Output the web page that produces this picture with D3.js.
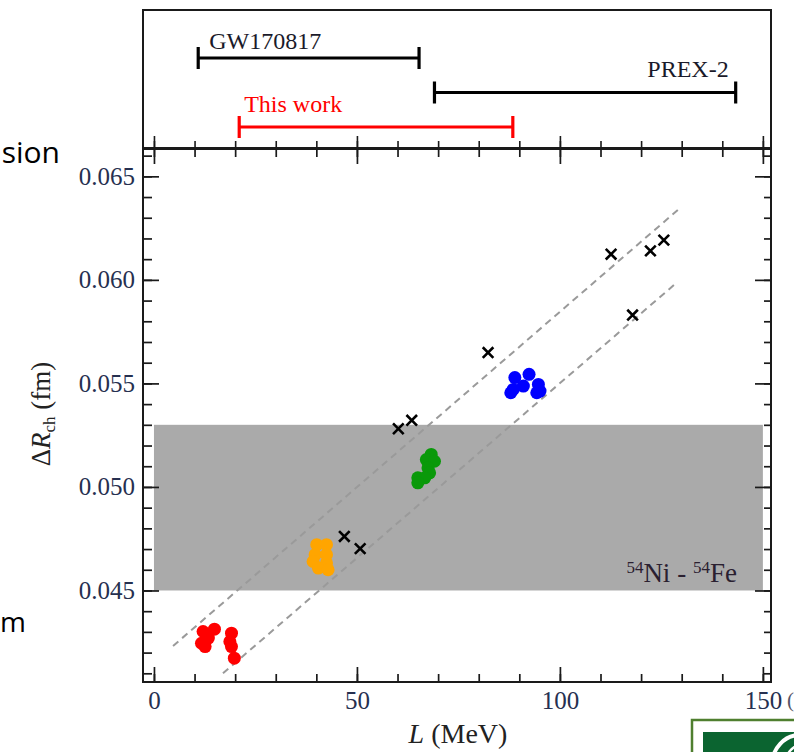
<!DOCTYPE html>
<html><head><meta charset="utf-8">
<script src="https://cdn.jsdelivr.net/npm/d3@7"></script>
<style>body{margin:0;background:#fff}svg{display:block}</style>
</head><body>
<script>
// ---------- data ----------
const constraintNames = ["GW170817", "PREX-2", "This work"];
const constraintLow = [10.9, 69.1, 21.0];
const constraintHigh = [65.3, 143.3, 88.4];

const crossL = [46.9, 50.8, 60.2, 63.5, 82.3, 112.6, 122.3, 125.6, 117.9];
const crossR = [0.04761, 0.04702, 0.05281, 0.05322, 0.05649, 0.06124, 0.06140, 0.06192, 0.05830];

const redL = [12.1, 14.9, 11.7, 12.6, 13.4, 19.1, 18.7, 19.1, 19.8];
const redR = [0.04302, 0.04313, 0.04245, 0.04229, 0.04270, 0.04294, 0.04253, 0.04229, 0.04173];
const orangeL = [40.1, 42.5, 39.7, 42.5, 39.2, 42.5, 40.5, 42.9];
const orangeR = [0.04721, 0.04721, 0.04673, 0.04673, 0.04640, 0.04633, 0.04608, 0.04600];
const greenL = [68.3, 67.1, 69.1, 67.5, 67.9, 65.0, 66.7, 65.0];
const greenR = [0.05157, 0.05132, 0.05124, 0.05092, 0.05068, 0.05044, 0.05044, 0.05020];
const blueL = [88.9, 92.4, 88.5, 87.9, 91.0, 94.7, 95.1, 94.3];
const blueR = [0.05528, 0.05544, 0.05471, 0.05455, 0.05487, 0.05495, 0.05463, 0.05455];

const upperFitL = [4.7, 129.6];
const upperFitR = [0.04232, 0.06347];
const lowerFitL = [17.0, 128.8];
const lowerFitR = [0.04100, 0.05987];

const bandL = [0, 150];
const bandR = [0.045, 0.053];

const xTicks = [0, 50, 100, 150];
const yTicks = [0.045, 0.050, 0.055, 0.060, 0.065];
const xMinor = [0, 10, 20, 30, 40, 50, 60, 70, 80, 90, 100, 110, 120, 130, 140, 150];
const yMinor = [0.041, 0.042, 0.043, 0.044, 0.045, 0.046, 0.047, 0.048, 0.049, 0.050, 0.051, 0.052, 0.053, 0.054, 0.055, 0.056, 0.057, 0.058, 0.059, 0.060, 0.061, 0.062, 0.063, 0.064, 0.065, 0.066];

// ---------- layout / style ----------
const W = 794, H = 752;
const mainL = 143, mainR = 771, mainT = 149, mainB = 682;
const topT = 10, topB = 148;
const serif = "'Liberation Serif','Times New Roman',serif";
const axisColor = "#1a1a1a";

const svg = d3.select("body").append("svg").attr("width", W).attr("height", H);

const x = d3.scaleLinear().domain([-2.7, 152]).range([mainL, mainR]);
const y = d3.scaleLinear().domain([0.04058, 0.06632]).range([mainB, mainT]);
const rowY = d3.scalePoint().domain(constraintNames).range([58, 127]);

// ---------- top panel ----------
const topPanel = svg.append("g");
topPanel.append("rect").attr("x", mainL).attr("y", topT).attr("width", mainR - mainL).attr("height", topB - topT)
  .attr("fill", "none").attr("stroke", axisColor).attr("stroke-width", 2);

const topMinor = d3.axisBottom(x).tickValues(xMinor).tickSize(-7).tickFormat("");
const topMajor = d3.axisBottom(x).tickValues(xTicks).tickSize(-12).tickFormat("");
[topMinor, topMajor].forEach(ax => {
  const g = topPanel.append("g").attr("transform", `translate(0,${topB})`).call(ax);
  g.select(".domain").remove();
  g.selectAll("line").attr("stroke", axisColor).attr("stroke-width", 1.6);
});

const barColor = {"GW170817": "#000", "PREX-2": "#000", "This work": "#ff0000"};
const capH = 11;
constraintNames.forEach((n, i) => {
  const yy = rowY(n), x0 = x(constraintLow[i]), x1 = x(constraintHigh[i]);
  const g = topPanel.append("g").attr("stroke", barColor[n]).attr("stroke-width", 3.2);
  g.append("line").attr("x1", x0).attr("x2", x1).attr("y1", yy).attr("y2", yy);
  g.append("line").attr("x1", x0).attr("x2", x0).attr("y1", yy - capH).attr("y2", yy + capH);
  g.append("line").attr("x1", x1).attr("x2", x1).attr("y1", yy - capH).attr("y2", yy + capH);
});
const lbl = (txt, xx, yy, anchor, col) => topPanel.append("text").attr("x", xx).attr("y", yy)
  .attr("text-anchor", anchor).attr("fill", col).attr("font-family", serif).attr("font-size", 24).text(txt);
lbl("GW170817", x(constraintLow[0]) + 11, rowY("GW170817") - 9, "start", "#1a1a2a");
lbl("PREX-2", x(constraintHigh[1]) - 7, rowY("PREX-2") - 16, "end", "#1a1a2a");
lbl("This work", x(constraintLow[2]) + 5, rowY("This work") - 15, "start", "#ff0000");

// ---------- main panel ----------
const main = svg.append("g");
main.append("rect").attr("x", x(bandL[0])).attr("width", x(bandL[1]) - x(bandL[0]))
  .attr("y", y(bandR[1])).attr("height", y(bandR[0]) - y(bandR[1])).attr("fill", "#aaaaaa");

const bandLabel = main.append("text").attr("x", x(bandL[1]) - 26).attr("y", y(bandR[0]) - 8)
  .attr("text-anchor", "end").attr("font-family", serif).attr("font-size", 27).attr("fill", "#2a2030");
bandLabel.append("tspan").attr("font-size", 17).attr("dy", -9).text("54");
bandLabel.append("tspan").attr("dy", 9).text("Ni - ");
bandLabel.append("tspan").attr("font-size", 17).attr("dy", -9).text("54");
bandLabel.append("tspan").attr("dy", 9).text("Fe");

const line = d3.line().x(d => x(d[0])).y(d => y(d[1]));
[[upperFitL, upperFitR], [lowerFitL, lowerFitR]].forEach(([L, R]) => {
  main.append("path").datum(L.map((v, i) => [v, R[i]])).attr("d", line)
    .attr("fill", "none").attr("stroke", "#9a9a9a").attr("stroke-width", 2).attr("stroke-dasharray", "7,5");
});

const clusters = [[redL, redR, "#ff0000"], [orangeL, orangeR, "#ffa500"], [greenL, greenR, "#0a990a"], [blueL, blueR, "#0000ff"]];
clusters.forEach(([L, R, c]) => {
  main.append("g").selectAll("circle").data(L.map((v, i) => [v, R[i]])).join("circle")
    .attr("cx", d => x(d[0])).attr("cy", d => y(d[1])).attr("r", 6.5).attr("fill", c);
});

main.append("g").selectAll("path").data(crossL.map((v, i) => [v, crossR[i]])).join("path")
  .attr("transform", d => `translate(${x(d[0])},${y(d[1])})`)
  .attr("d", d3.symbol().type(d3.symbolX).size(75))
  .attr("fill", "none").attr("stroke", "#000").attr("stroke-width", 2.6);

// frame
main.append("rect").attr("x", mainL).attr("y", mainT).attr("width", mainR - mainL).attr("height", mainB - mainT)
  .attr("fill", "none").attr("stroke", axisColor).attr("stroke-width", 2);

function ticks(axisFn, scale, vals, size, tr) {
  const g = main.append("g").attr("transform", tr).call(axisFn(scale).tickValues(vals).tickSize(size).tickFormat(""));
  g.select(".domain").remove();
  g.selectAll("line").attr("stroke", axisColor).attr("stroke-width", 1.7);
}
ticks(d3.axisBottom, x, xMinor, -8, `translate(0,${mainB})`);
ticks(d3.axisBottom, x, xTicks, -15, `translate(0,${mainB})`);
ticks(d3.axisTop, x, xMinor, -8, `translate(0,${mainT})`);
ticks(d3.axisTop, x, xTicks, -15, `translate(0,${mainT})`);
ticks(d3.axisLeft, y, yMinor, -9, `translate(${mainL},0)`);
ticks(d3.axisLeft, y, yTicks, -16, `translate(${mainL},0)`);
ticks(d3.axisRight, y, yMinor, -7, `translate(${mainR},0)`);
ticks(d3.axisRight, y, yTicks, -16, `translate(${mainR},0)`);

// tick labels
const xl = main.append("g").attr("transform", `translate(0,${mainB})`)
  .call(d3.axisBottom(x).tickValues(xTicks).tickSize(0).tickPadding(9).tickFormat(d3.format("d")));
xl.select(".domain").remove();
xl.selectAll("text").attr("font-family", serif).attr("font-size", 25).attr("fill", "#263050");
const yl = main.append("g").attr("transform", `translate(${mainL},0)`)
  .call(d3.axisLeft(y).tickValues(yTicks).tickSize(0).tickPadding(8).tickFormat(d3.format(".3f")));
yl.select(".domain").remove();
yl.selectAll("text").attr("font-family", serif).attr("font-size", 25).attr("fill", "#263050");

// axis titles
const xt = svg.append("text").attr("x", 458).attr("y", 743).attr("text-anchor", "middle")
  .attr("font-family", serif).attr("font-size", 28).attr("fill", "#222");
xt.append("tspan").attr("font-style", "italic").text("L");
xt.append("tspan").text(" (MeV)");

const yt = svg.append("text").attr("transform", "translate(50,414) rotate(-90)").attr("text-anchor", "middle")
  .attr("font-family", serif).attr("font-size", 27).attr("fill", "#222");
yt.append("tspan").text("Δ");
yt.append("tspan").attr("font-style", "italic").text("R");
yt.append("tspan").attr("font-size", 17).attr("dy", 5).text("ch");
yt.append("tspan").attr("dy", -5).text(" (fm)");

// slide fragments around the figure
const sans = "'Open Sans','Liberation Sans',sans-serif";
svg.append("text").attr("x", 60).attr("y", 163).attr("text-anchor", "end").attr("font-family", sans)
  .attr("font-size", 30).attr("fill", "#000").text("sion");
svg.append("text").attr("x", 0).attr("y", 632).attr("text-anchor", "start").attr("font-family", sans)
  .attr("font-size", 28).attr("fill", "#000").text("m");
svg.append("text").attr("x", 787).attr("y", 707).attr("font-family", serif)
  .attr("font-size", 21).attr("fill", "#556").text("(");

// logo corner
const logo = svg.append("g");
logo.append("rect").attr("x", 692).attr("y", 720).attr("width", 120).attr("height", 60)
  .attr("fill", "#fff").attr("stroke", "#4f7f2f").attr("stroke-width", 2.5);
logo.append("rect").attr("x", 703).attr("y", 732).attr("width", 100).attr("height", 30).attr("fill", "#0b6430");
logo.append("ellipse").attr("cx", 800).attr("cy", 765).attr("rx", 28).attr("ry", 30)
  .attr("fill", "none").attr("stroke", "#fff").attr("stroke-width", 4);
logo.append("ellipse").attr("cx", 804).attr("cy", 768).attr("rx", 20).attr("ry", 24)
  .attr("fill", "none").attr("stroke", "#fff").attr("stroke-width", 2.5);
</script>
</body></html>
